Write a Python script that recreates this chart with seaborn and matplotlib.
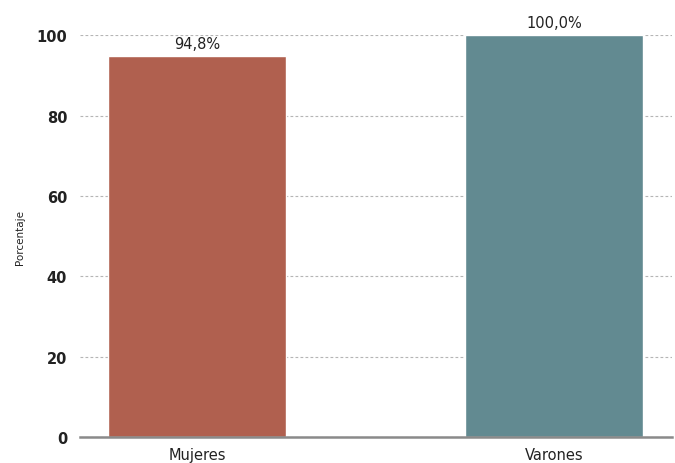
import matplotlib
matplotlib.use("Agg")
import matplotlib.pyplot as plt
import pandas as pd
import seaborn as sns

categorias = ["Mujeres", "Varones"]
porcentajes = [94.8, 100.0]
colores = ["#B0604F", "#628A91"]
yticks = [0, 20, 40, 60, 80, 100]

sns.set_theme(style="white")
plt.rcParams["font.family"] = ["DejaVu Sans"]

df = pd.DataFrame({"cat": categorias, "pct": porcentajes})

fig = plt.figure(figsize=(6.75, 4.64), dpi=100)
ax = fig.add_axes([0.118, 0.056, 0.877, 0.866])

sns.barplot(data=df, x="cat", y="pct", hue="cat", palette=colores,
            width=0.5, legend=False, ax=ax, saturation=1, zorder=3)

for bar, v in zip(ax.patches, porcentajes):
    ax.text(bar.get_x() + bar.get_width() / 2, v + 1.2,
            f"{v:.1f}%".replace(".", ","), ha="center", va="bottom",
            fontsize=10.5, color="#222222", clip_on=False)

ax.set_ylim(0, 100)
ax.set_xlim(-0.33, 1.33)
ax.set_yticks(yticks)
ax.yaxis.grid(True, linestyle=(0, (2.5, 2)), color="#b5b5b5", linewidth=0.8, zorder=0)
ax.set_axisbelow(True)

for s in ["top", "right", "left"]:
    ax.spines[s].set_visible(False)
ax.spines["bottom"].set_color("#8a8a8a")
ax.spines["bottom"].set_linewidth(1.8)
ax.spines["bottom"].set_zorder(4)

ax.tick_params(axis="y", length=0, pad=9, labelsize=10.5, labelcolor="#222222")
ax.tick_params(axis="x", length=0, pad=7, labelsize=10.5, labelcolor="#222222")
for lbl in ax.get_yticklabels():
    lbl.set_fontweight("semibold")

ax.set_xlabel("")
ax.set_ylabel("Porcentaje", fontsize=7.5, color="#222222", labelpad=8)

fig.savefig("out.png", dpi=100)
